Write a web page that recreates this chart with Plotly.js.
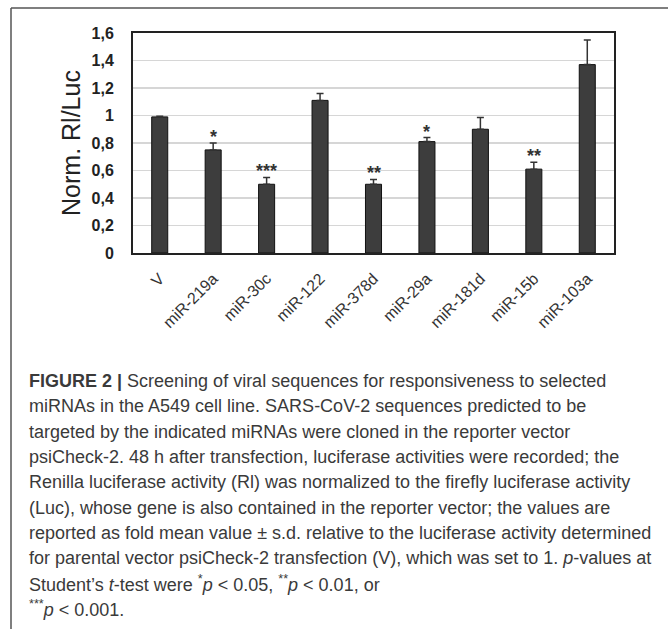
<!DOCTYPE html>
<html>
<head>
<meta charset="utf-8">
<script src="https://cdn.plot.ly/plotly-3.0.1.min.js"></script>
<style>html,body{margin:0;padding:0;background:#fff;}#chart{width:668px;height:629px;}</style>
</head>
<body>
<div id="chart"></div>
<script>
// ---- data ----
const categories = ["V", "miR-219a", "miR-30c", "miR-122", "miR-378d", "miR-29a", "miR-181d", "miR-15b", "miR-103a"];
const meanValues = [0.99, 0.75, 0.50, 1.11, 0.50, 0.81, 0.90, 0.61, 1.37];
const sdValues   = [0.005, 0.05, 0.05, 0.05, 0.035, 0.03, 0.085, 0.05, 0.18];
const significance = ["", "*", "***", "", "**", "*", "", "**", ""];
const yTickValues = [0, 0.2, 0.4, 0.6, 0.8, 1, 1.2, 1.4, 1.6];
const yTickLabels = ["0", "0,2", "0,4", "0,6", "0,8", "1", "1,2", "1,4", "1,6"];
const yAxisTitle = "Norm. Rl/Luc";
const captionLines = [
  "<b>FIGURE 2 |</b> Screening of viral sequences for responsiveness to selected",
  "miRNAs in the A549 cell line. SARS-CoV-2 sequences predicted to be",
  "targeted by the indicated miRNAs were cloned in the reporter vector",
  "psiCheck-2. 48 h after transfection, luciferase activities were recorded; the",
  "Renilla luciferase activity (Rl) was normalized to the firefly luciferase activity",
  "(Luc), whose gene is also contained in the reporter vector; the values are",
  "reported as fold mean value ± s.d. relative to the luciferase activity determined",
  "for parental vector psiCheck-2 transfection (V), which was set to 1. <i>p</i>-values at",
  "Student’s <i>t</i>-test were <sup>*</sup><i>p</i> &lt; 0.05, <sup>**</sup><i>p</i> &lt; 0.01, or",
  "<sup>***</sup><i>p</i> &lt; 0.001."
];

// ---- layout geometry (pixels) ----
const W = 668, H = 629;
const plotL = 133, plotR = 614, plotT = 33, plotB = 253;
const px2x = px => (px - plotL) / (plotR - plotL);
const py2y = py => (plotB - py) / (plotB - plotT);

const trace = {
  type: "bar",
  x: categories,
  y: meanValues,
  marker: { color: "#3d3d3d", line: { color: "#111", width: 1 } },
  error_y: {
    type: "data", symmetric: false, array: sdValues,
    arrayminus: sdValues.map(() => 0),
    color: "#333", thickness: 1.5, width: 3.5
  },
  hoverinfo: "none"
};

const annotations = [];
categories.forEach((c, i) => {
  if (significance[i]) {
    annotations.push({
      x: c, y: meanValues[i] + sdValues[i], xref: "x", yref: "y",
      text: significance[i], showarrow: false, yanchor: "bottom", yshift: -6,
      font: { family: "Liberation Sans, Arial, sans-serif", size: 18, color: "#333", weight: "bold" }
    });
  }
});
captionLines.forEach((t, i) => {
  annotations.push({
    xref: "paper", yref: "paper", x: px2x(27), y: py2y(381 + i * 25.3),
    xanchor: "left", yanchor: "middle", align: "left", showarrow: false,
    text: t,
    font: { family: "Liberation Sans, Arial, sans-serif", size: 18, color: "#3a3a3a" }
  });
});

const shapes = [
  { type: "line", xref: "paper", yref: "paper", x0: px2x(11), x1: px2x(W + 2), y0: py2y(8), y1: py2y(8), line: { color: "#555", width: 1.5 } },
  { type: "line", xref: "paper", yref: "paper", x0: px2x(11), x1: px2x(11), y0: py2y(8), y1: py2y(H + 2), line: { color: "#555", width: 1.5 } }
];

const layout = {
  width: W, height: H,
  margin: { l: plotL, r: W - plotR, t: plotT, b: H - plotB, pad: 0 },
  paper_bgcolor: "#fff", plot_bgcolor: "#fff",
  showlegend: false,
  bargap: 0.7,
  xaxis: {
    type: "category", tickangle: -45, ticks: "", showgrid: false,
    showline: true, mirror: true, linecolor: "#222", linewidth: 2,
    ticklabelstandoff: 8,
    tickfont: { family: "Liberation Sans, Arial, sans-serif", size: 16, color: "#333" },
    automargin: false
  },
  yaxis: {
    range: [0, 1.6], tickvals: yTickValues, ticktext: yTickLabels,
    ticks: "", showgrid: true, gridcolor: "#d6d6d6", gridwidth: 1.5,
    zeroline: false, showline: true, mirror: true, linecolor: "#222", linewidth: 2,
    ticklabelstandoff: 14,
    tickfont: { family: "Liberation Sans, Arial, sans-serif", size: 16, color: "#222", weight: "bold" },
    title: { text: yAxisTitle, standoff: 4, font: { family: "Liberation Sans, Arial, sans-serif", size: 25, color: "#222" } },
    automargin: false
  },
  annotations: annotations,
  shapes: shapes
};

Plotly.newPlot("chart", [trace], layout, { displayModeBar: false, staticPlot: true });
</script>
</body>
</html>
